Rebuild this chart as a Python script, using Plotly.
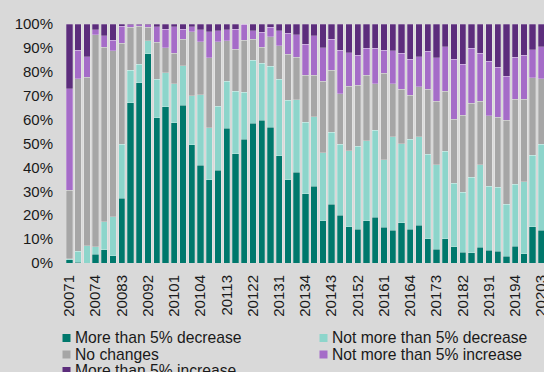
import plotly.graph_objects as go

# Quarter codes: year followed by quarter number
quarters = [
    "20071", "20072", "20073", "20074", "20081", "20082", "20083", "20084",
    "20091", "20092", "20093", "20094", "20101", "20102", "20103", "20104",
    "20111", "20112", "20113", "20114", "20121", "20122", "20123", "20124",
    "20131", "20132", "20133", "20134", "20141", "20142", "20143", "20144",
    "20151", "20152", "20153", "20154", "20161", "20162", "20163", "20164",
    "20171", "20172", "20173", "20174", "20181", "20182", "20183", "20184",
    "20191", "20192", "20193", "20194", "20201", "20202", "20203",
]

# Labelled quarters on the category axis
tick_labels = [
    "20071", "20074", "20083", "20092", "20101", "20104", "20113", "20122",
    "20131", "20134", "20143", "20152", "20161", "20164", "20173", "20182",
    "20191", "20194", "20203",
]

# Percentage axis ticks
y_ticks = [0, 10, 20, 30, 40, 50, 60, 70, 80, 90, 100]
y_tick_labels = ["0%", "10%", "20%", "30%", "40%", "50%", "60%", "70%", "80%", "90%", "100%"]

# Share of respondents (%) in each answer group
big_decrease = [
    1.3, 0.3, 0.0, 3.6, 5.5, 3.1, 27.1, 67.0, 75.4, 87.5, 60.7, 65.4, 58.7, 66.1,
    49.5, 41.0, 34.8, 38.8, 56.4, 45.7, 51.8, 58.5, 59.8, 56.8, 44.8, 34.8, 38.0,
    28.9, 32.1, 17.6, 24.6, 20.0, 15.1, 14.1, 17.6, 19.1, 14.9, 13.7, 16.8, 14.1,
    15.8, 10.2, 5.7, 10.2, 6.7, 4.6, 4.3, 6.6, 5.4, 4.9, 2.8, 7.1, 3.9, 15.1, 13.7,
]
small_decrease = [
    0.4, 4.6, 7.2, 3.3, 11.8, 16.2, 22.6, 13.7, 7.7, 5.4, 16.1, 14.1, 16.2, 16.4,
    20.5, 29.3, 21.8, 26.8, 19.7, 26.1, 19.7, 26.4, 23.7, 25.5, 32.0, 33.4, 30.4,
    30.0, 29.1, 28.5, 30.1, 29.6, 31.8, 34.8, 33.5, 36.5, 28.4, 39.1, 33.2, 37.7,
    37.0, 35.3, 35.5, 36.6, 26.7, 25.1, 31.6, 34.5, 26.7, 26.8, 21.8, 25.9, 30.0,
    30.0, 36.0,
]
no_change = [
    28.7, 72.2, 70.6, 88.5, 72.9, 69.5, 42.3, 18.0, 15.9, 5.8, 15.5, 10.5, 12.8,
    11.2, 26.8, 22.3, 29.3, 27.0, 16.8, 17.7, 21.8, 8.8, 6.7, 12.4, 14.0, 19.2,
    17.6, 19.7, 17.4, 30.0, 26.0, 21.3, 27.1, 25.5, 27.5, 19.5, 36.0, 22.3, 22.8,
    18.3, 20.9, 27.3, 26.5, 25.1, 26.8, 32.2, 30.9, 26.6, 29.6, 29.2, 35.2, 35.6,
    34.7, 32.4, 27.3,
]
small_increase = [
    42.6, 12.0, 8.4, 2.1, 4.9, 4.4, 7.0, 0.9, 0.6, 0.9, 6.6, 7.9, 11.2, 4.2, 2.1,
    4.9, 10.9, 4.5, 4.6, 8.4, 6.7, 3.5, 6.3, 3.9, 6.3, 8.7, 9.4, 13.0, 16.4, 14.0,
    13.0, 18.2, 14.0, 12.6, 11.3, 14.8, 9.8, 13.7, 14.9, 15.2, 12.6, 15.9, 18.2,
    18.6, 25.1, 21.3, 23.1, 20.0, 22.8, 21.1, 18.4, 17.4, 18.3, 11.7, 13.4,
]
big_increase = [
    27.0, 10.9, 13.8, 2.5, 4.9, 6.8, 1.0, 0.4, 0.4, 0.4, 1.1, 2.1, 1.1, 2.1, 1.1,
    2.5, 3.2, 2.9, 2.5, 2.1, 0.0, 2.8, 3.5, 1.4, 2.9, 3.9, 4.6, 8.4, 5.0, 9.9,
    6.3, 10.9, 12.0, 13.0, 10.1, 10.1, 10.9, 11.2, 12.3, 14.7, 13.7, 11.3, 14.1,
    9.5, 14.7, 16.8, 10.1, 12.3, 15.5, 18.0, 21.8, 14.0, 13.1, 10.8, 9.6,
]

series_names = [
    "More than 5% decrease",
    "Not more than 5% decrease",
    "No changes",
    "Not more than 5% increase",
    "More than 5% increase",
]
series_values = [big_decrease, small_decrease, no_change, small_increase, big_increase]
series_colors = ["#00786C", "#8DD5CB", "#A6A6A6", "#A56CC8", "#5C2D7C"]

FONT = "Liberation Sans, Arial, sans-serif"
TEXT = "#1a1a1a"

fig = go.Figure()
for name, vals, col in zip(series_names, series_values, series_colors):
    fig.add_trace(go.Bar(
        x=quarters, y=vals, name=name,
        marker=dict(color=col, line=dict(color="rgba(255,255,255,0.35)", width=0.7)),
        showlegend=False,
    ))

# Legend drawn as coloured squares plus labels in two columns below the axis
plot_left, plot_right, plot_top, plot_bottom = 65, 544, 24, 263
pw, ph = plot_right - plot_left, plot_bottom - plot_top
def px_x(v):
    return (v - plot_left) / pw
def px_y(v):
    return (plot_bottom - v) / ph

legend_slots = [(62.5, 338.0), (319.5, 338.0), (62.5, 354.5), (319.5, 354.5), (62.5, 371.0)]
shapes, annotations = [], []
for (sx, sy), name, col in zip(legend_slots, series_names, series_colors):
    shapes.append(dict(
        type="rect", xref="paper", yref="paper",
        x0=px_x(sx), x1=px_x(sx + 8), y0=px_y(sy + 4), y1=px_y(sy - 4),
        fillcolor=col, line=dict(width=0),
    ))
    annotations.append(dict(
        text=name, xref="paper", yref="paper",
        x=px_x(sx + 10), y=px_y(sy - 0.5), xanchor="left", yanchor="middle",
        showarrow=False, font=dict(family=FONT, size=15.7, color=TEXT),
    ))

fig.update_layout(
    width=544, height=372,
    margin=dict(l=plot_left, r=0, t=plot_top, b=372 - plot_bottom),
    paper_bgcolor="#D9D9D9", plot_bgcolor="#D9D9D9",
    barmode="stack", bargap=0.28,
    font=dict(family=FONT, size=15, color=TEXT),
    shapes=shapes, annotations=annotations,
    xaxis=dict(
        type="category", range=[-0.5, 54.3], automargin=False,
        tickmode="array", tickvals=tick_labels, ticktext=tick_labels,
        tickangle=-90, showgrid=False, zeroline=False, showline=False,
        ticklabelstandoff=8, tickfont=dict(size=15),
    ),
    yaxis=dict(
        range=[0, 100], automargin=False,
        tickmode="array", tickvals=y_ticks, ticktext=y_tick_labels,
        showgrid=False, zeroline=False, showline=False,
        ticklabelstandoff=11, tickfont=dict(size=15),
    ),
)

fig.write_html("out.html")
